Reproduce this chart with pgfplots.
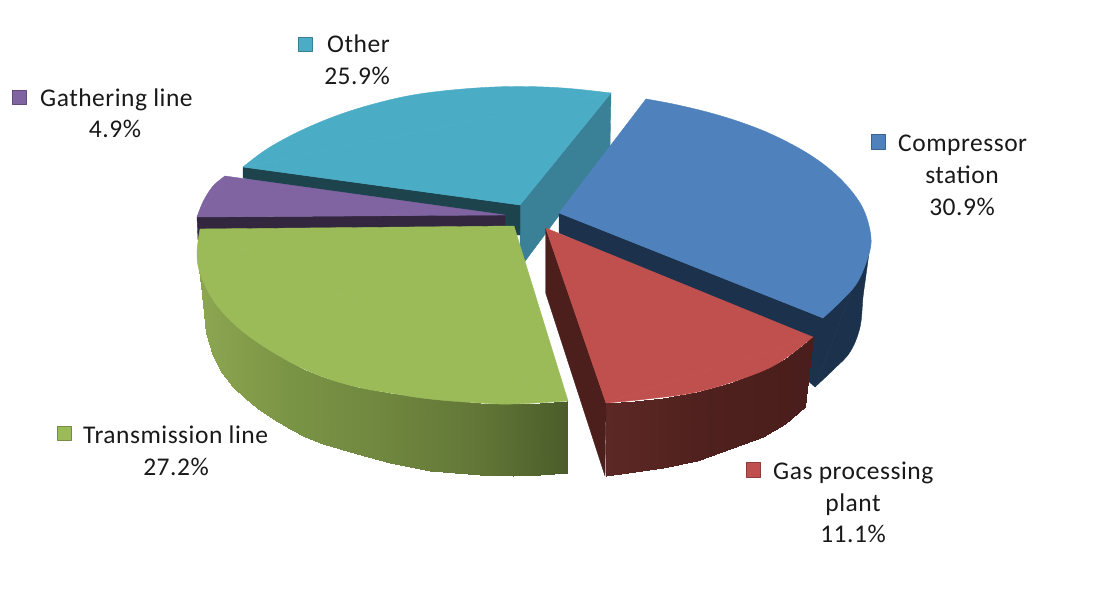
\documentclass[border=0pt]{standalone}
\usepackage{fontspec}
\setmainfont[LetterSpace=2]{Carlito}
\usepackage{pgfplots}
\usepgfplotslibrary{patchplots}
\pgfplotsset{compat=1.18}

\definecolor{bluetop}{RGB}{79,129,189}
\definecolor{bluedark}{RGB}{28,50,76}
\definecolor{redtop}{RGB}{192,80,77}
\definecolor{reddark}{RGB}{76,30,28}
\definecolor{greentop}{RGB}{155,187,89}
\definecolor{purpletop}{RGB}{128,100,162}
\definecolor{purpledark}{RGB}{51,39,63}
\definecolor{tealtop}{RGB}{75,172,198}
\definecolor{tealside}{RGB}{58,129,151}
\definecolor{tealdark}{RGB}{29,67,77}

\begin{document}
\begin{tikzpicture}[lbl/.style={font=\fontsize{25.5}{30}\selectfont, text=black!90, inner sep=0pt}]
\path[use as bounding box] (0,0) rectangle (1100pt,602pt);
\begin{axis}[
    at={(0,0)}, anchor=south west,
    scale only axis, width=1100pt, height=602pt,
    hide axis,
    xmin=0, xmax=1100, ymin=0, ymax=602,
    y dir=reverse,
    point meta min=0, point meta max=1,
    no markers,
    every axis plot/.append style={line join=round, line width=0.4pt},
    slice/.style={fill=#1, draw=#1},
    rim/.style={smooth, tension=0.6, fill=#1, draw=#1},
    key/.style={fill=#1, draw=#1!75!black, line width=0.8pt},
]
% other
\addplot[slice=tealside] coordinates {(520,205)(611,93)(610,147)(520,268)} -- cycle;
\addplot[slice=tealdark] coordinates {(243,167)(520,205)(520,235)(505,235)(243,178)} -- cycle;
\addplot[slice=tealtop] coordinates {(520,205)(611,93)(243,167)} -- cycle;
\addplot[rim=tealtop] coordinates {
    (611,93)(563,88)(513,86.5)(463,89)(413,95)(370,105)(333,117)(298,132)(267,149)(243,167)} -- cycle;
% gathering line
\addplot[slice=purpledark] coordinates {(197,217)(505,215)(505,240)(198,240)} -- cycle;
\addplot[slice=purpletop] coordinates {(505,215)(225,176)(197,217)} -- cycle;
\addplot[rim=purpletop] coordinates {(225,176)(215,184)(208,193)(202,204)(197,217)} -- cycle;
% transmission line, side then top
\addplot[patch, patch type=rectangle, shader=interp, point meta=explicit,
    colormap={greenside}{rgb255=(140,166,81) rgb255=(122,148,69) rgb255=(112,135,63) rgb255=(98,119,55) rgb255=(75,93,42)}]
    table[meta=c] {
x y c
198 262 0.00
198 262 0.00
201 285 0.01
201 276 0.01
201 276 0.01
201 285 0.01
206 333 0.02
206 286 0.02
206 286 0.02
206 333 0.02
213 356 0.04
213 300 0.04
213 300 0.04
213 356 0.04
222 373 0.065
222 311 0.065
222 311 0.065
222 373 0.065
233 387 0.095
233 323 0.095
233 323 0.095
233 387 0.095
245 398 0.13
245 333 0.13
245 333 0.13
245 398 0.13
257 408 0.16
257 342 0.16
257 342 0.16
257 408 0.16
273 419 0.20
273 352 0.20
273 352 0.20
273 419 0.20
290 429 0.25
290 362 0.25
290 362 0.25
290 429 0.25
305 437 0.29
305 370 0.29
305 370 0.29
305 437 0.29
323 444 0.34
323 377 0.34
323 377 0.34
323 444 0.34
357 454 0.43
357 387 0.43
357 387 0.43
357 454 0.43
390 463 0.52
390 393 0.52
390 393 0.52
390 463 0.52
430 471 0.63
430 398 0.63
430 398 0.63
430 471 0.63
480 475 0.76
480 403 0.76
480 403 0.76
480 475 0.76
513 476 0.85
513 404 0.85
513 404 0.85
513 476 0.85
540 475 0.93
540 403 0.93
540 403 0.93
540 475 0.93
567 473 1.00
567 401 1.00
};
\addplot[slice=greentop] coordinates {(514,226)(200,229)(568,401)} -- cycle;
\addplot[rim=greentop] coordinates {
    (200,229)(197,253)(200,273)(213,300)(233,323)(257,342)(290,362)(323,377)(357,387)(390,393)(430,399)(480,403)(513,404)(568,401)} -- cycle;
% compressor station
\addplot[slice=bluedark] coordinates {(559,213)(559,233)(807,340)(807,380)(815,387)(871,240)(823,318)} -- cycle;
\addplot[rim=bluedark] coordinates {(871,240)(869,253)(866,275)(863,297)(860,327)(850,352)(833,370)(815,387)} -- cycle;
\addplot[slice=bluetop] coordinates {(559,213)(646,99)(823,318)} -- cycle;
\addplot[rim=bluetop] coordinates {
    (646,99)(673,104)(707,112)(740,122)(773,135)(807,153)(833,172)(853,193)(865,213)(871,238)(868,257)(857,283)(840,302)(823,318)} -- cycle;
% gas processing plant
\addplot[patch, patch type=rectangle, shader=interp, point meta=explicit,
    colormap={redside}{rgb255=(92,40,37) rgb255=(80,33,30) rgb255=(74,30,28)}]
    table[meta=c] {
x y c
606 476 0.00
606 403 0.00
635 401 0.15
635 472 0.15
635 472 0.15
635 401 0.15
663 398 0.30
663 468 0.30
663 468 0.30
663 398 0.30
697 392 0.50
697 461 0.50
697 461 0.50
697 392 0.50
730 383 0.65
730 449 0.65
730 449 0.65
730 383 0.65
763 370 0.85
763 437 0.85
763 437 0.85
763 370 0.85
785 359 0.95
785 424 0.95
785 424 0.95
785 359 0.95
813 337 1.00
805 407 1.00
};
\addplot[slice=reddark] coordinates {(545.7,228)(606,403)(605,476)(545.7,293)} -- cycle;
\addplot[slice=redtop] coordinates {(545.7,228)(812.7,337)(606,403)} -- cycle;
\addplot[rim=redtop] coordinates {(812.7,337)(780,362)(747,377)(697,392)(647,399)(606,403)} -- cycle;
% legend keys
\addplot[key=bluetop] coordinates {(871,134)(885,134)(885,149)(871,149)} -- cycle;
\addplot[key=redtop] coordinates {(746,462)(760,462)(760,477)(746,477)} -- cycle;
\addplot[key=greentop] coordinates {(57,426)(71,426)(71,440)(57,440)} -- cycle;
\addplot[key=purpletop] coordinates {(12,90)(26,90)(26,104)(12,104)} -- cycle;
\addplot[key=tealtop] coordinates {(298,37)(312,37)(312,51)(298,51)} -- cycle;
% labels
\node[lbl, anchor=base west] at (axis cs:327,53) {Other};
\node[lbl, anchor=base] at (axis cs:357,85) {25.9\%};
\node[lbl, anchor=base west] at (axis cs:40,107) {Gathering line};
\node[lbl, anchor=base] at (axis cs:115,138) {4.9\%};
\node[lbl, anchor=base west] at (axis cs:83,443) {Transmission line};
\node[lbl, anchor=base] at (axis cs:176,475) {27.2\%};
\node[lbl, anchor=base west] at (axis cs:898,152) {Compressor};
\node[lbl, anchor=base] at (axis cs:962,183) {station};
\node[lbl, anchor=base] at (axis cs:962,215) {30.9\%};
\node[lbl, anchor=base west] at (axis cs:773,479) {Gas processing};
\node[lbl, anchor=base] at (axis cs:853,511) {plant};
\node[lbl, anchor=base] at (axis cs:853,542) {11.1\%};
\end{axis}
\end{tikzpicture}
\end{document}
